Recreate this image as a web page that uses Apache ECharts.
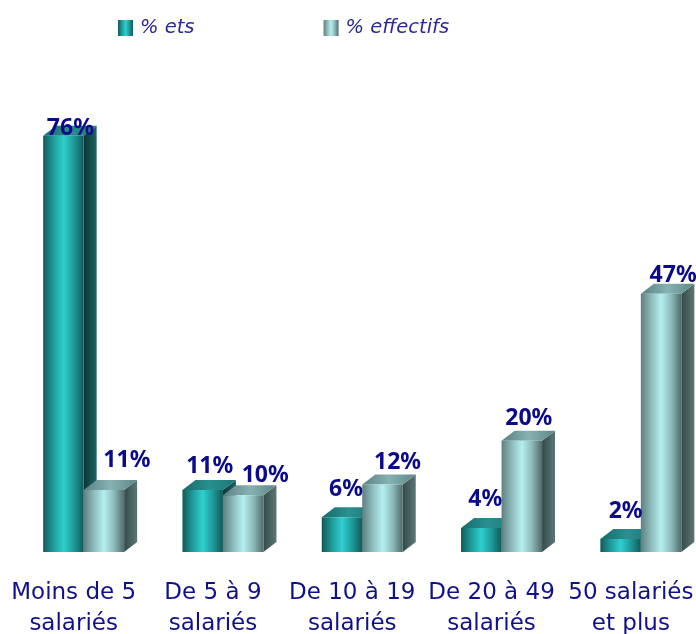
<!DOCTYPE html>
<html>
<head>
<meta charset="utf-8">
<style>
  html, body { margin: 0; padding: 0; background: #fff; }
  #chart { width: 696px; height: 634px; }
</style>
<script src="https://cdn.jsdelivr.net/npm/echarts@6/dist/echarts.min.js"></script>
</head>
<body>
<div id="chart"></div>
<script>
const categories = ['Moins de 5\nsalariés', 'De 5 à 9\nsalariés', 'De 10 à 19\nsalariés', 'De 20 à 49\nsalariés', '50 salariés\net plus']
const etsValues = [76, 11, 6, 4, 2]
const effectifsValues = [11, 10, 12, 20, 47]

// les etiquettes ne sont pas centrees sur les barres dans l'original
const etsLabelNudge = [[7, -7], [7, -23], [4, -28], [4, -29], [5, -27]]
const effectifsLabelNudge = [[23, -29], [22, -20], [15, -22], [7, -22], [12, -18]]

const BLUE = '#10108c'
const DEPTH_X = 13
const DEPTH_Y = 10
const BAR_W = 40.5
const Y_MIN = -0.4 // les barres de l'original partent un peu sous zero

function grad(x, x2, y2, stops) {
  return {
    type: 'linear', x: x, y: 0, x2: x2, y2: y2,
    colorStops: stops.map((c, i) => ({ offset: i / (stops.length - 1), color: c }))
  }
}

const etsColors = {
  front: grad(0, 1, 0, ['#125a5a', '#1f9a9a', '#2fcfcf', '#1f9a9a', '#125a5a']),
  top: grad(0, 1, 0, ['#176a6a', '#2a9090', '#1c7676']),
  side: grad(0, 1, 0, ['#0c3434', '#1d6666'])
}
const effectifsColors = {
  front: grad(0, 1, 0, ['#5e7f7f', '#8dbaba', '#b4efef', '#8dbaba', '#4f6b6b']),
  top: grad(0, 1, 0, ['#5b8080', '#86b2b2', '#5f8787']),
  side: grad(0, 1, 0, ['#344b4b', '#5c7676'])
}

function barRenderer(colors, side, nudges) {
  return function (params, api) {
    const i = api.value(0)
    const v = api.value(1)
    const base = api.coord([i, Y_MIN])
    const top = api.coord([i, v])
    const x0 = base[0] + (side < 0 ? -BAR_W : 0)
    const x1 = x0 + BAR_W
    const yT = top[1]
    const yB = base[1]
    const n = nudges[i]
    return {
      type: 'group',
      children: [
        {
          type: 'polygon',
          shape: { points: [[x1, yB], [x1 + DEPTH_X, yB - DEPTH_Y], [x1 + DEPTH_X, yT - DEPTH_Y], [x1, yT]] },
          style: { fill: colors.side }
        },
        {
          type: 'polygon',
          shape: { points: [[x0, yT], [x0 + DEPTH_X, yT - DEPTH_Y], [x1 + DEPTH_X, yT - DEPTH_Y], [x1, yT]] },
          style: { fill: colors.top }
        },
        {
          type: 'rect',
          shape: { x: x0, y: yT, width: BAR_W, height: yB - yT },
          style: { fill: colors.front }
        },
        {
          type: 'text',
          z2: 100,
          style: {
            x: (x0 + x1) / 2 + n[0],
            y: yT + n[1],
            text: v + '%',
            fill: '#0a0a8a',
            font: 'bold 23px "Noto Sans"',
            align: 'center',
            verticalAlign: 'middle'
          }
        }
      ]
    }
  }
}

const chart = echarts.init(document.getElementById('chart'), null, { renderer: 'canvas' })
chart.setOption({
  animation: false,
  backgroundColor: '#fff',
  legend: {
    left: 118,
    top: 18,
    padding: 0,
    icon: 'rect',
    itemWidth: 15,
    itemHeight: 16,
    itemGap: 129,
    textStyle: {
      color: '#2a2a96',
      fontSize: 19.5,
      fontStyle: 'italic',
      fontFamily: 'DejaVu Sans',
      padding: [0, 0, 0, 2]
    },
    data: ['% ets', '% effectifs']
  },
  grid: {
    outerBoundsMode: 'none',
    left: 14,
    top: 114,
    width: 696.5,
    height: 438
  },
  xAxis: {
    type: 'category',
    data: categories,
    axisLine: { show: false },
    axisTick: { show: false },
    axisLabel: {
      interval: 0,
      margin: 25,
      padding: [0, 20, 0, 0],
      color: BLUE,
      fontSize: 23,
      lineHeight: 31.5,
      fontFamily: 'DejaVu Sans'
    }
  },
  yAxis: {
    type: 'value',
    min: Y_MIN,
    max: 80,
    show: false
  },
  series: [
    {
      name: '% ets',
      type: 'custom',
      renderItem: barRenderer(etsColors, -1, etsLabelNudge),
      encode: { x: 0, y: 1 },
      itemStyle: { color: etsColors.front },
      data: etsValues.map((v, i) => [i, v])
    },
    {
      name: '% effectifs',
      type: 'custom',
      renderItem: barRenderer(effectifsColors, 1, effectifsLabelNudge),
      encode: { x: 0, y: 1 },
      itemStyle: { color: effectifsColors.front },
      data: effectifsValues.map((v, i) => [i, v])
    }
  ]
})
</script>
</body>
</html>
